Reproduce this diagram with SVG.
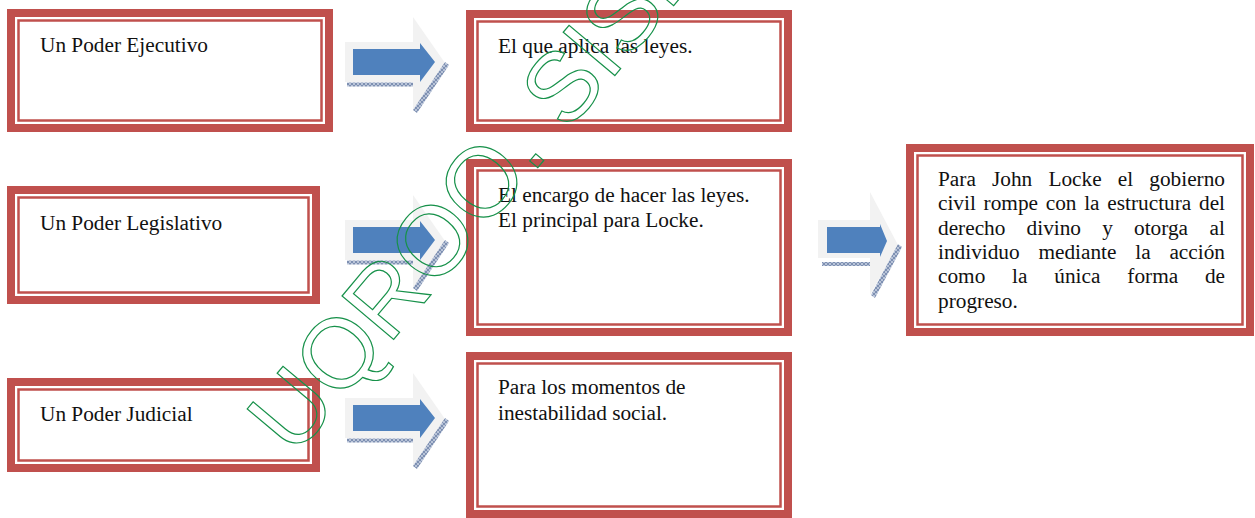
<svg xmlns="http://www.w3.org/2000/svg" xmlns:xlink="http://www.w3.org/1999/xlink" width="1255" height="518" viewBox="0 0 1255 518">
<style>
.outer{fill:#fff;stroke:#C0504D;stroke-width:8}
.inner{fill:none;stroke:#C0504D;stroke-width:2.5}
.t{font-family:"Liberation Serif","Times New Roman",serif;font-size:21.3px;fill:#111}
.sh{fill:#F2F2F2}
.bl{fill:#4F81BD}
.ht{fill:url(#hatch)}
.wm{font-family:"Liberation Sans",Arial,sans-serif;font-size:98px;fill:none;stroke:#17914A;stroke-width:1.2}
</style>
<defs>
<pattern id="hatch" width="4" height="4" patternUnits="userSpaceOnUse">
<rect width="4" height="4" fill="#B9C4D8"/>
<path d="M0,4 L4,0 M0,0 L4,4" stroke="#6E83A8" stroke-width="0.8"/>
</pattern>
<g id="arr">
<polygon class="sh" points="345,42 413,42 413,17 445,63 413,110 413,82 345,82"/>
<rect class="ht" x="347" y="82.5" width="66" height="4"/>
<polygon class="ht" points="445,62 449,65 417,113 413,110"/>
<polygon class="bl" points="353,49 420,49 420,43 435,62 420,82 420,75 353,75"/>
</g>
</defs>
<g id="n1"><rect class="outer" x="11" y="13" width="318" height="115"/><rect class="inner" x="18.5" y="20.5" width="303" height="100"/><text class="t" x="40" y="52">Un Poder Ejecutivo</text></g>
<g id="n2"><rect class="outer" x="11" y="190" width="305" height="110"/><rect class="inner" x="18.5" y="197.5" width="290" height="95"/><text class="t" x="40" y="230">Un Poder Legislativo</text></g>
<g id="n3"><rect class="outer" x="11" y="382" width="305" height="86"/><rect class="inner" x="18.5" y="389.5" width="290" height="71"/><text class="t" x="40" y="421">Un Poder Judicial</text></g>
<g id="n4"><rect class="outer" x="470" y="14" width="318" height="114"/><rect class="inner" x="477.5" y="21.5" width="303" height="99"/><text class="t" x="498" y="53">El que aplica las leyes.</text></g>
<g id="n5"><rect class="outer" x="470" y="163" width="318" height="169"/><rect class="inner" x="477.5" y="170.5" width="303" height="154"/><text class="t" x="498" y="202">El encargo de hacer las leyes.</text><text class="t" x="498" y="227">El principal para Locke.</text></g>
<g id="n6"><rect class="outer" x="470" y="356" width="318" height="158"/><rect class="inner" x="477.5" y="363.5" width="303" height="143"/><text class="t" x="498" y="394">Para los momentos de</text><text class="t" x="498" y="420">inestabilidad social.</text></g>
<g id="n7"><rect class="outer" x="910" y="148" width="340" height="184"/><rect class="inner" x="917.5" y="155.5" width="325" height="169"/>
<text class="t" y="186"><tspan x="938">Para</tspan><tspan x="992">John</tspan><tspan x="1048.4">Locke</tspan><tspan x="1117.7">el</tspan><tspan x="1149.3">gobierno</tspan></text>
<text class="t" y="210.3"><tspan x="938">civil</tspan><tspan x="983.6">rompe</tspan><tspan x="1045.7">con</tspan><tspan x="1084.2">la</tspan><tspan x="1107.3">estructura</tspan><tspan x="1199">del</tspan></text>
<text class="t" y="234.6"><tspan x="938">derecho</tspan><tspan x="1026.6">divino</tspan><tspan x="1102.2">y</tspan><tspan x="1134">otorga</tspan><tspan x="1209.6">al</tspan></text>
<text class="t" y="258.9"><tspan x="938">individuo</tspan><tspan x="1038.4">mediante</tspan><tspan x="1135.3">la</tspan><tspan x="1169.4">acción</tspan></text>
<text class="t" y="283.2"><tspan x="938">como</tspan><tspan x="1012.1">la</tspan><tspan x="1054.3">única</tspan><tspan x="1127.3">forma</tspan><tspan x="1204.9">de</tspan></text>
<text class="t" x="938" y="307.5">progreso.</text></g>
<g id="connectors">
<use xlink:href="#arr" href="#arr"/>
<use xlink:href="#arr" href="#arr" transform="translate(0,178)"/>
<use xlink:href="#arr" href="#arr" transform="translate(0,356)"/>
<g id="arr4">
<polygon class="sh" points="818,220 870,220 870,192 898,245 870,295 870,258 818,258"/>
<rect class="ht" x="822" y="262" width="48" height="4"/>
<polygon class="ht" points="898,244 902,247 875,298 871,295"/>
<polygon class="bl" points="827,227 880,227 880,224 887,241 880,257 880,253 827,253"/>
</g>
</g>
<g id="watermark"><text class="wm" transform="translate(294,458) rotate(-50)">UQROO. SISBI</text></g>
</svg>
